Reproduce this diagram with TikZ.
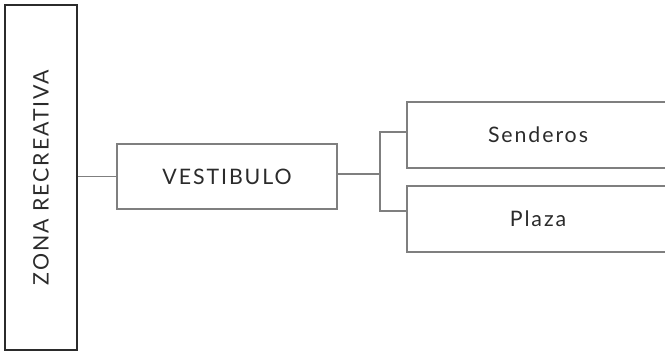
\documentclass[tikz,border=0pt]{standalone}
\usepackage{fontspec}
\setmainfont{Lato}[LetterSpace=9]
\usepackage{tikz}

\definecolor{txt}{HTML}{2B2B2B}
\definecolor{edge}{HTML}{7F7F7F}

\begin{document}
\begin{tikzpicture}[x=0.75pt,y=-0.75pt,
    zonebox/.style={draw=txt,line width=1.5pt,rotate=90,minimum width=258.75pt,minimum height=54pt,inner sep=0pt},
    itembox/.style={draw=edge,line width=1.1pt,minimum width=196.5pt,minimum height=49.5pt,inner sep=0pt},
    conn/.style={draw=edge,line width=1.1pt}]
    \useasboundingbox (0,0) rectangle (665,351);
    \clip (0,0) rectangle (665,351);
    \node[zonebox,text=txt,font=\fontsize{16}{18}\selectfont] (zona) at (41,177.5) {ZONA RECREATIVA};
    \node[itembox,minimum width=165pt,minimum height=48.75pt,text=txt,font=\fontsize{16}{18}\selectfont] (vest) at (227,176.5) {VESTIBULO};
    \node[itembox,text=txt,font=\fontsize{16}{18}\selectfont] (send) at (538,135) {Senderos};
    \node[itembox,text=txt,font=\fontsize{16}{18}\selectfont] (plaza) at (538,219) {Plaza};
    \coordinate (hy) at (380,174);
    \coordinate (bt) at (380,132);
    \coordinate (bb) at (380,211);
    \draw[conn] (zona.south |- vest.west) -- (vest.west);
    \draw[conn] (vest.east |- hy) -- (hy);
    \draw[conn] (send.west |- bt) -- (bt) -- (bb) -- (plaza.west |- bb);
\end{tikzpicture}
\end{document}
